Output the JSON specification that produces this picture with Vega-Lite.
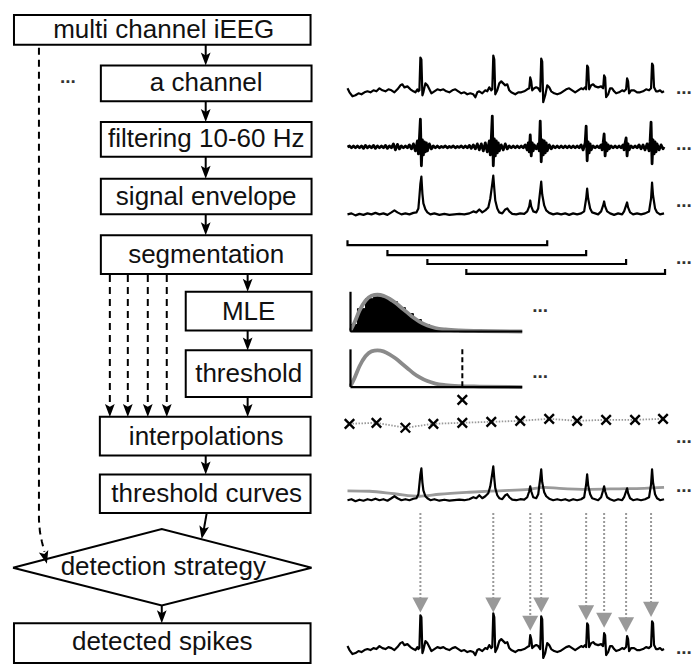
{
"$schema": "https://vega.github.io/schema/vega-lite/v6.json",
"width": 692, "height": 664,
"autosize": {"type": "fit", "contains": "padding"},
"padding": 0,
"background": "white",
"config": {"view": {"stroke": null}},
"datasets": {
"boxes": [
{"x":14,"xb":311,"y":15,"yb":45},
{"x":101,"xb":312,"y":66,"yb":102},
{"x":101,"xb":312,"y":123,"yb":158},
{"x":101,"xb":312,"y":180,"yb":216},
{"x":101,"xb":312,"y":237,"yb":276},
{"x":186,"xb":312,"y":294,"yb":333},
{"x":186,"xb":312,"y":353,"yb":400},
{"x":100,"xb":311,"y":420,"yb":459},
{"x":100,"xb":311,"y":478,"yb":517},
{"x":14,"xb":311,"y":628,"yb":668}
],
"labels": [
{"x":164,"y":30.5,"t":"multi channel iEEG"},
{"x":206.5,"y":84,"t":"a channel"},
{"x":206.5,"y":140.5,"t":"filtering 10-60 Hz"},
{"x":206.5,"y":198,"t":"signal envelope"},
{"x":206.5,"y":256.5,"t":"segmentation"},
{"x":249,"y":314,"t":"MLE"},
{"x":249,"y":377,"t":"threshold"},
{"x":206.5,"y":440,"t":"interpolations"},
{"x":207,"y":497.5,"t":"threshold curves"},
{"x":163.5,"y":571.5,"t":"detection strategy"},
{"x":162.5,"y":647,"t":"detected spikes"}
],
"diamond": [
{"o":1,"x":13,"y":572},{"o":2,"x":162,"y":533},{"o":3,"x":312,"y":572},{"o":4,"x":162,"y":610},{"o":5,"x":13,"y":572}
],
"shafts": [
{"x":206,"y":45,"xb":206,"yb":60},
{"x":206,"y":102,"xb":206,"yb":117},
{"x":206,"y":158,"xb":206,"yb":174},
{"x":206,"y":216,"xb":206,"yb":231},
{"x":248,"y":276,"xb":248,"yb":288},
{"x":248,"y":333,"xb":248,"yb":347},
{"x":248,"y":400,"xb":248,"yb":414},
{"x":206,"y":459,"xb":206,"yb":472},
{"x":162,"y":610,"xb":162,"yb":622},
{"x":207,"y":517,"xb":203.5,"yb":537}
],
"dshafts": [
{"x":110,"y":277,"xb":110,"yb":414},
{"x":128,"y":277,"xb":128,"yb":414},
{"x":148,"y":277,"xb":148,"yb":414},
{"x":167,"y":277,"xb":167,"yb":414}
],
"lcurve": [
{"o":1,"x":39,"y":48},{"o":2,"x":39,"y":524},{"o":3,"x":40,"y":536},{"o":4,"x":42,"y":546},{"o":5,"x":44.5,"y":556}
],
"heads": [
{"x":206,"y":59.5},{"x":206,"y":116.5},{"x":206,"y":173.5},{"x":206,"y":230.5},
{"x":248,"y":287.5},{"x":248,"y":346.5},{"x":248,"y":413.5},{"x":206,"y":471.5},{"x":162,"y":621.5},
{"x":110,"y":413.5},{"x":128,"y":413.5},{"x":148,"y":413.5},{"x":167,"y":413.5}
],
"headA": [{"x":203.2,"y":536.6}],
"headB": [{"x":45.3,"y":561.7}],
"dots": [
{"x":60,"y":83.5},{"x":677,"y":94.5},{"x":677,"y":151.5},{"x":677,"y":208.5},{"x":677,"y":266.5},
{"x":533,"y":314.5},{"x":533,"y":380.5},{"x":677,"y":446.5},{"x":677,"y":495.5},{"x":677,"y":658.5}
],
"raw": [
{"x":348,"y":89,"d":651},{"x":350,"y":93,"d":655},{"x":353,"y":97,"d":659},{"x":356,"y":96,"d":658},{"x":359,"y":94,"d":656},{"x":362,"y":95,"d":657},{"x":365,"y":93,"d":655},{"x":368,"y":92,"d":654},{"x":371,"y":93,"d":655},{"x":374,"y":91,"d":653},{"x":377,"y":92,"d":654},{"x":380,"y":89,"d":651},{"x":383,"y":91,"d":653},{"x":386,"y":92,"d":654},{"x":389,"y":90,"d":652},{"x":392,"y":91,"d":653},{"x":395,"y":93,"d":655},{"x":398,"y":90,"d":652},{"x":401,"y":86,"d":648},{"x":403,"y":85,"d":647},{"x":405,"y":88,"d":650},{"x":408,"y":87,"d":649},{"x":411,"y":90,"d":652},{"x":414,"y":92,"d":654},{"x":416,"y":93,"d":655},{"x":418,"y":90,"d":652},{"x":419,"y":92,"d":654},{"x":420,"y":91,"d":653},{"x":421,"y":58,"d":620},{"x":422,"y":60,"d":622},{"x":423,"y":96,"d":658},{"x":424,"y":93,"d":655},{"x":426,"y":84,"d":646},{"x":428,"y":86,"d":648},{"x":430,"y":90,"d":652},{"x":432,"y":94,"d":656},{"x":435,"y":92,"d":654},{"x":438,"y":90,"d":652},{"x":441,"y":91,"d":653},{"x":444,"y":90,"d":652},{"x":447,"y":92,"d":654},{"x":450,"y":93,"d":655},{"x":453,"y":91,"d":653},{"x":456,"y":90,"d":652},{"x":459,"y":92,"d":654},{"x":462,"y":94,"d":656},{"x":465,"y":93,"d":655},{"x":468,"y":95,"d":657},{"x":471,"y":94,"d":656},{"x":474,"y":95,"d":657},{"x":476,"y":98,"d":660},{"x":478,"y":93,"d":655},{"x":480,"y":92,"d":654},{"x":483,"y":94,"d":656},{"x":486,"y":91,"d":653},{"x":488,"y":92,"d":654},{"x":490,"y":88,"d":650},{"x":492,"y":91,"d":653},{"x":493,"y":90,"d":652},{"x":494,"y":56,"d":618},{"x":495,"y":60,"d":622},{"x":496,"y":95,"d":657},{"x":498,"y":91,"d":653},{"x":500,"y":84,"d":646},{"x":502,"y":82,"d":644},{"x":504,"y":84,"d":646},{"x":506,"y":86,"d":648},{"x":508,"y":85,"d":647},{"x":510,"y":91,"d":653},{"x":512,"y":93,"d":655},{"x":514,"y":94,"d":656},{"x":516,"y":95,"d":657},{"x":519,"y":93,"d":655},{"x":522,"y":93,"d":655},{"x":525,"y":92,"d":654},{"x":528,"y":90,"d":652},{"x":530,"y":89,"d":651},{"x":531,"y":78,"d":640},{"x":532,"y":82,"d":644},{"x":533,"y":91,"d":653},{"x":535,"y":89,"d":651},{"x":537,"y":88,"d":650},{"x":539,"y":89,"d":651},{"x":541,"y":92,"d":654},{"x":542,"y":59,"d":621},{"x":543,"y":62,"d":624},{"x":544,"y":103,"d":663},{"x":546,"y":96,"d":658},{"x":548,"y":86,"d":648},{"x":550,"y":88,"d":650},{"x":552,"y":92,"d":654},{"x":555,"y":94,"d":656},{"x":558,"y":95,"d":657},{"x":561,"y":94,"d":656},{"x":564,"y":92,"d":654},{"x":567,"y":90,"d":652},{"x":570,"y":89,"d":651},{"x":573,"y":91,"d":653},{"x":576,"y":93,"d":655},{"x":579,"y":91,"d":653},{"x":582,"y":89,"d":651},{"x":584,"y":90,"d":652},{"x":586,"y":88,"d":650},{"x":587,"y":90,"d":652},{"x":588,"y":66,"d":628},{"x":589,"y":68,"d":630},{"x":590,"y":90,"d":652},{"x":592,"y":86,"d":648},{"x":594,"y":85,"d":647},{"x":596,"y":87,"d":649},{"x":599,"y":88,"d":650},{"x":602,"y":87,"d":649},{"x":604,"y":89,"d":651},{"x":605,"y":76,"d":638},{"x":606,"y":78,"d":640},{"x":607,"y":98,"d":660},{"x":609,"y":95,"d":657},{"x":611,"y":89,"d":651},{"x":613,"y":89,"d":651},{"x":615,"y":92,"d":654},{"x":617,"y":94,"d":656},{"x":620,"y":93,"d":655},{"x":623,"y":91,"d":653},{"x":625,"y":92,"d":654},{"x":627,"y":90,"d":652},{"x":628,"y":79,"d":641},{"x":629,"y":82,"d":644},{"x":630,"y":94,"d":656},{"x":632,"y":91,"d":653},{"x":635,"y":91,"d":653},{"x":638,"y":93,"d":655},{"x":641,"y":93,"d":655},{"x":644,"y":92,"d":654},{"x":647,"y":90,"d":652},{"x":650,"y":91,"d":653},{"x":652,"y":89,"d":651},{"x":653,"y":64,"d":626},{"x":654,"y":66,"d":628},{"x":655,"y":88,"d":650},{"x":657,"y":92,"d":654},{"x":659,"y":92,"d":654},{"x":661,"y":91,"d":653},{"x":663,"y":93,"d":655},{"x":665,"y":92,"d":654}
],
"filt": [
{"x":348,"y":148},{"x":350,"y":147},{"x":352,"y":149},{"x":354,"y":147},{"x":356,"y":149},{"x":358,"y":147},{"x":360,"y":149},{"x":362,"y":147},{"x":364,"y":149.5},{"x":366,"y":146.5},{"x":368,"y":149},{"x":370,"y":147},{"x":372,"y":149},{"x":374,"y":146.5},{"x":376,"y":149.5},{"x":378,"y":147},{"x":380,"y":149},{"x":382,"y":147},{"x":384,"y":149},{"x":386,"y":146.5},{"x":388,"y":149.5},{"x":390,"y":147},{"x":392,"y":149},{"x":394,"y":145},{"x":396,"y":151},{"x":398,"y":145.5},{"x":400,"y":150},{"x":402,"y":147},{"x":404,"y":149},{"x":406,"y":147},{"x":408,"y":149},{"x":410,"y":146},{"x":412,"y":150},{"x":414,"y":145},{"x":416,"y":152},{"x":418,"y":142},{"x":419,"y":155},{"x":420,"y":140},{"x":421,"y":120},{"x":422,"y":167},{"x":423,"y":141},{"x":424,"y":156},{"x":425,"y":143},{"x":426,"y":153},{"x":427,"y":144},{"x":428,"y":152},{"x":430,"y":145},{"x":432,"y":150},{"x":434,"y":147},{"x":436,"y":149},{"x":438,"y":147},{"x":440,"y":149},{"x":442,"y":147.5},{"x":444,"y":148.5},{"x":446,"y":147},{"x":448,"y":149},{"x":450,"y":147.5},{"x":452,"y":148.5},{"x":454,"y":147},{"x":456,"y":149},{"x":458,"y":147.5},{"x":460,"y":148.5},{"x":462,"y":147},{"x":464,"y":149},{"x":466,"y":147},{"x":468,"y":149},{"x":470,"y":146.5},{"x":472,"y":149.5},{"x":474,"y":146},{"x":476,"y":150},{"x":478,"y":145},{"x":480,"y":151},{"x":482,"y":145},{"x":484,"y":152},{"x":486,"y":144},{"x":488,"y":153},{"x":490,"y":142},{"x":491,"y":156},{"x":492,"y":140},{"x":493,"y":117},{"x":494,"y":167},{"x":495,"y":140},{"x":496,"y":157},{"x":497,"y":142},{"x":498,"y":154},{"x":499,"y":144},{"x":500,"y":152},{"x":502,"y":146},{"x":504,"y":151},{"x":506,"y":145},{"x":508,"y":150},{"x":510,"y":147},{"x":512,"y":149},{"x":514,"y":147},{"x":516,"y":149},{"x":518,"y":147},{"x":520,"y":149},{"x":522,"y":147},{"x":524,"y":149},{"x":526,"y":146},{"x":528,"y":151},{"x":529,"y":144},{"x":530,"y":153},{"x":531,"y":136},{"x":532,"y":157},{"x":533,"y":144},{"x":534,"y":152},{"x":535,"y":146},{"x":537,"y":150},{"x":539,"y":145},{"x":540,"y":152},{"x":541,"y":122},{"x":542,"y":163},{"x":543,"y":141},{"x":544,"y":156},{"x":545,"y":142},{"x":546,"y":154},{"x":547,"y":144},{"x":548,"y":152},{"x":550,"y":146},{"x":552,"y":150},{"x":554,"y":147},{"x":556,"y":149},{"x":558,"y":147},{"x":560,"y":149},{"x":562,"y":147},{"x":564,"y":149},{"x":566,"y":147},{"x":568,"y":149},{"x":570,"y":147},{"x":572,"y":149},{"x":574,"y":147},{"x":576,"y":149},{"x":578,"y":147},{"x":580,"y":149},{"x":582,"y":146},{"x":584,"y":151},{"x":586,"y":144},{"x":587,"y":127},{"x":588,"y":162},{"x":589,"y":143},{"x":590,"y":154},{"x":591,"y":145},{"x":592,"y":151},{"x":594,"y":147},{"x":596,"y":149},{"x":598,"y":147},{"x":600,"y":149},{"x":602,"y":146},{"x":603,"y":151},{"x":604,"y":144},{"x":605,"y":135},{"x":606,"y":157},{"x":607,"y":144},{"x":608,"y":152},{"x":609,"y":146},{"x":610,"y":150},{"x":612,"y":147},{"x":614,"y":149},{"x":616,"y":147},{"x":618,"y":149},{"x":620,"y":147},{"x":622,"y":149},{"x":624,"y":146},{"x":625,"y":151},{"x":626,"y":144},{"x":627,"y":139},{"x":628,"y":157},{"x":629,"y":145},{"x":630,"y":151},{"x":632,"y":147},{"x":634,"y":149},{"x":636,"y":147},{"x":638,"y":149},{"x":640,"y":146},{"x":642,"y":150},{"x":644,"y":146},{"x":646,"y":151},{"x":648,"y":145},{"x":650,"y":152},{"x":651,"y":143},{"x":652,"y":123},{"x":653,"y":165},{"x":654,"y":141},{"x":655,"y":155},{"x":656,"y":143},{"x":657,"y":153},{"x":658,"y":145},{"x":660,"y":151},{"x":662,"y":146},{"x":664,"y":150},{"x":665,"y":148}
],
"env": [
{"x":348,"y":216,"t":504},{"x":352,"y":215,"t":503},{"x":356,"y":217,"t":505},{"x":360,"y":215.5,"t":503.5},{"x":364,"y":216.5,"t":504.5},{"x":368,"y":215,"t":503},{"x":372,"y":216,"t":504},{"x":376,"y":214.5,"t":502.5},{"x":380,"y":216,"t":504},{"x":384,"y":215,"t":503},{"x":388,"y":216.5,"t":504.5},{"x":392,"y":214,"t":502},{"x":395,"y":212,"t":500},{"x":398,"y":214,"t":502},{"x":402,"y":216,"t":504},{"x":406,"y":215,"t":503},{"x":410,"y":216,"t":504},{"x":414,"y":214.5,"t":502.5},{"x":417,"y":214,"t":502},{"x":419,"y":210,"t":498},{"x":420,"y":198,"t":488},{"x":421,"y":185,"t":478},{"x":422,"y":178,"t":472},{"x":423,"y":195,"t":486},{"x":424,"y":205,"t":494},{"x":426,"y":211,"t":500},{"x":428,"y":214,"t":502},{"x":431,"y":216,"t":504},{"x":435,"y":215,"t":503},{"x":440,"y":216.5,"t":504.5},{"x":445,"y":215.5,"t":503.5},{"x":450,"y":216.5,"t":504.5},{"x":455,"y":216,"t":504},{"x":460,"y":215.5,"t":503.5},{"x":465,"y":216,"t":504},{"x":470,"y":215,"t":503},{"x":474,"y":213,"t":501},{"x":477,"y":214,"t":502},{"x":480,"y":211,"t":499},{"x":483,"y":214,"t":502},{"x":486,"y":212,"t":500},{"x":489,"y":209,"t":497},{"x":491,"y":200,"t":490},{"x":493,"y":185,"t":477},{"x":494,"y":177,"t":470},{"x":495,"y":190,"t":482},{"x":496,"y":202,"t":492},{"x":498,"y":210,"t":499},{"x":500,"y":214,"t":502},{"x":503,"y":215,"t":503},{"x":506,"y":211,"t":499},{"x":508,"y":210,"t":498},{"x":510,"y":213,"t":501},{"x":513,"y":215.5,"t":503.5},{"x":517,"y":216,"t":504},{"x":521,"y":215,"t":503},{"x":525,"y":215.5,"t":503.5},{"x":528,"y":213,"t":501},{"x":530,"y":208,"t":495},{"x":531,"y":202,"t":490},{"x":532,"y":208,"t":495},{"x":534,"y":213,"t":501},{"x":537,"y":214,"t":502},{"x":539,"y":210,"t":498},{"x":541,"y":192,"t":482},{"x":542,"y":183,"t":473},{"x":543,"y":196,"t":486},{"x":545,"y":207,"t":496},{"x":547,"y":212,"t":500},{"x":550,"y":214.5,"t":502.5},{"x":554,"y":216,"t":504},{"x":558,"y":215,"t":503},{"x":562,"y":216,"t":504},{"x":566,"y":215,"t":503},{"x":570,"y":216.5,"t":504.5},{"x":574,"y":215,"t":503},{"x":578,"y":216,"t":504},{"x":582,"y":215,"t":503},{"x":585,"y":213,"t":501},{"x":587,"y":200,"t":488},{"x":588,"y":190,"t":478},{"x":589,"y":200,"t":489},{"x":591,"y":210,"t":498},{"x":593,"y":214,"t":502},{"x":596,"y":215,"t":503},{"x":599,"y":216,"t":504},{"x":602,"y":213,"t":501},{"x":604,"y":207,"t":494},{"x":605,"y":203,"t":490},{"x":606,"y":208,"t":495},{"x":608,"y":213,"t":501},{"x":611,"y":215,"t":503},{"x":615,"y":216.5,"t":504.5},{"x":619,"y":215,"t":503},{"x":623,"y":216,"t":504},{"x":625,"y":213,"t":501},{"x":627,"y":207,"t":495},{"x":628,"y":204,"t":492},{"x":629,"y":209,"t":497},{"x":631,"y":214,"t":502},{"x":634,"y":216,"t":504},{"x":638,"y":215,"t":503},{"x":642,"y":216,"t":504},{"x":646,"y":215,"t":503},{"x":650,"y":213,"t":501},{"x":652,"y":200,"t":488},{"x":653,"y":184,"t":473},{"x":654,"y":197,"t":486},{"x":656,"y":210,"t":498},{"x":658,"y":214,"t":502},{"x":661,"y":216,"t":504},{"x":665,"y":215,"t":503}
],
"gcurve": [
{"x":348,"y":494.5},{"x":370,"y":495},{"x":395,"y":497.5},{"x":420,"y":500},{"x":440,"y":498},{"x":470,"y":496},{"x":500,"y":494.5},{"x":530,"y":493},{"x":545,"y":491},{"x":560,"y":492},{"x":590,"y":493},{"x":620,"y":492.5},{"x":645,"y":492},{"x":665,"y":491}
],
"brackets": [
{"id":1,"o":1,"x":348,"y":242},{"id":1,"o":2,"x":348,"y":247},{"id":1,"o":3,"x":548,"y":247},{"id":1,"o":4,"x":548,"y":242},
{"id":2,"o":1,"x":388,"y":252},{"id":2,"o":2,"x":388,"y":257},{"id":2,"o":3,"x":587,"y":257},{"id":2,"o":4,"x":587,"y":252},
{"id":3,"o":1,"x":428,"y":261},{"id":3,"o":2,"x":428,"y":266},{"id":3,"o":3,"x":627,"y":266},{"id":3,"o":4,"x":627,"y":261},
{"id":4,"o":1,"x":467,"y":271},{"id":4,"o":2,"x":467,"y":276},{"id":4,"o":3,"x":666,"y":276},{"id":4,"o":4,"x":666,"y":271}
],
"hist": [
{"x":351,"xb":358,"y":327},{"x":358,"xb":366,"y":311},{"x":366,"xb":374,"y":301},{"x":374,"xb":382,"y":298},{"x":382,"xb":390,"y":300},{"x":390,"xb":398,"y":304},{"x":398,"xb":406,"y":310},{"x":406,"xb":414,"y":316},{"x":414,"xb":422,"y":322},{"x":422,"xb":430,"y":327},{"x":430,"xb":440,"y":330},{"x":440,"xb":455,"y":332}
],
"dist": [
{"id":1,"x":351,"y":333},{"id":1,"x":355,"y":325},{"id":1,"x":360,"y":313},{"id":1,"x":366,"y":303},{"id":1,"x":372,"y":298},{"id":1,"x":378,"y":297},{"id":1,"x":384,"y":298},{"id":1,"x":390,"y":301},{"id":1,"x":396,"y":305},{"id":1,"x":402,"y":310},{"id":1,"x":408,"y":315},{"id":1,"x":414,"y":320},{"id":1,"x":420,"y":324},{"id":1,"x":428,"y":328},{"id":1,"x":436,"y":330.5},{"id":1,"x":446,"y":332},{"id":1,"x":460,"y":333},{"id":1,"x":480,"y":333.5},{"id":1,"x":523,"y":334},
{"id":2,"x":351,"y":389},{"id":2,"x":355,"y":381},{"id":2,"x":360,"y":369},{"id":2,"x":366,"y":359},{"id":2,"x":372,"y":354},{"id":2,"x":378,"y":353},{"id":2,"x":384,"y":354},{"id":2,"x":390,"y":357},{"id":2,"x":396,"y":361},{"id":2,"x":402,"y":366},{"id":2,"x":408,"y":371},{"id":2,"x":414,"y":376},{"id":2,"x":420,"y":380},{"id":2,"x":428,"y":384},{"id":2,"x":436,"y":386.5},{"id":2,"x":446,"y":388},{"id":2,"x":460,"y":389},{"id":2,"x":480,"y":389.5},{"id":2,"x":523,"y":390}
],
"daxes": [
{"x":351,"y":294,"xb":351,"yb":334},{"x":351,"y":334,"xb":523,"yb":334},
{"x":351,"y":352,"xb":351,"yb":390},{"x":351,"y":390,"xb":523,"yb":390}
],
"thrline": [{"x":463,"y":352,"xb":463,"yb":390}],
"interp": [
{"x":350,"y":427},{"x":377,"y":426},{"x":406,"y":431},{"x":434,"y":427},{"x":463,"y":426},{"x":492,"y":425},{"x":521,"y":424},{"x":550,"y":422},{"x":578,"y":424},{"x":607,"y":423},{"x":636,"y":423},{"x":664,"y":422}
],
"xs": [
{"x":463,"y":403},
{"x":350,"y":427},{"x":377,"y":426},{"x":406,"y":431},{"x":434,"y":427},{"x":463,"y":426},{"x":492,"y":425},{"x":521,"y":424},{"x":550,"y":422},{"x":578,"y":424},{"x":607,"y":423},{"x":636,"y":423},{"x":664,"y":422}
],
"garrows": [
{"x":421,"y":517,"yb":603},{"x":494,"y":517,"yb":603},{"x":531,"y":517,"yb":622},{"x":542,"y":517,"yb":603},
{"x":587,"y":517,"yb":611},{"x":605,"y":517,"yb":618},{"x":627,"y":517,"yb":623},{"x":652,"y":517,"yb":608}
],
"gtri": [
{"x":421,"y":609.5},{"x":494,"y":609.5},{"x":531,"y":628},{"x":542,"y":609.5},
{"x":587,"y":617.5},{"x":605,"y":625},{"x":627,"y":629.5},{"x":652,"y":614}
]
},
"encoding": {
"x": {"field": "x", "type": "quantitative", "scale": {"domain": [0, 692], "nice": false, "zero": false}, "axis": null},
"y": {"field": "y", "type": "quantitative", "scale": {"domain": [0, 664], "nice": false, "zero": false, "reverse": true}, "axis": null}
},
"layer": [
{"data": {"name": "boxes"}, "mark": {"type": "rect", "fill": "white", "stroke": "black", "strokeWidth": 2},
 "encoding": {"x2": {"field": "xb"}, "y2": {"field": "yb"}}},
{"data": {"name": "diamond"}, "mark": {"type": "line", "stroke": "black", "strokeWidth": 2},
 "encoding": {"order": {"field": "o", "type": "quantitative"}}},
{"data": {"name": "labels"}, "mark": {"type": "text", "font": "Liberation Sans", "fontSize": 26, "align": "center", "baseline": "middle", "color": "#111"},
 "encoding": {"text": {"field": "t", "type": "nominal"}}},
{"data": {"name": "shafts"}, "mark": {"type": "rule", "stroke": "black", "strokeWidth": 2},
 "encoding": {"x2": {"field": "xb"}, "y2": {"field": "yb"}}},
{"data": {"name": "dshafts"}, "mark": {"type": "rule", "stroke": "black", "strokeWidth": 2, "strokeDash": [7, 5]},
 "encoding": {"x2": {"field": "xb"}, "y2": {"field": "yb"}}},
{"data": {"name": "lcurve"}, "mark": {"type": "line", "stroke": "black", "strokeWidth": 2, "strokeDash": [7, 5]},
 "encoding": {"order": {"field": "o", "type": "quantitative"}}},
{"data": {"name": "heads"}, "mark": {"type": "point", "shape": "M0,1L-0.75,-1L0,-0.55L0.75,-1Z", "filled": true, "fill": "black", "size": 169, "opacity": 1, "strokeWidth": 0}},
{"data": {"name": "headA"}, "mark": {"type": "point", "shape": "M0,1L-0.75,-1L0,-0.55L0.75,-1Z", "filled": true, "fill": "black", "size": 169, "opacity": 1, "strokeWidth": 0, "angle": 11}},
{"data": {"name": "headB"}, "mark": {"type": "point", "shape": "M0,1L-0.75,-1L0,-0.55L0.75,-1Z", "filled": true, "fill": "black", "size": 169, "opacity": 1, "strokeWidth": 0, "angle": -15}},
{"data": {"name": "dots"}, "mark": {"type": "text", "text": "...", "font": "Liberation Sans", "fontSize": 19, "fontWeight": "bold", "align": "left", "baseline": "alphabetic", "color": "#333"}},
{"data": {"name": "raw"}, "mark": {"type": "line", "stroke": "black", "strokeWidth": 2.2, "strokeJoin": "round"}},
{"data": {"name": "raw"}, "mark": {"type": "line", "stroke": "black", "strokeWidth": 2.2, "strokeJoin": "round"},
 "encoding": {"y": {"field": "d", "type": "quantitative", "scale": {"domain": [0, 664], "nice": false, "zero": false, "reverse": true}, "axis": null}}},
{"data": {"name": "filt"}, "mark": {"type": "line", "stroke": "black", "strokeWidth": 2.8, "strokeJoin": "round"}},
{"data": {"name": "env"}, "mark": {"type": "line", "stroke": "black", "strokeWidth": 2.2, "strokeJoin": "round"}},
{"data": {"name": "gcurve"}, "mark": {"type": "line", "stroke": "#9a9a9a", "strokeWidth": 2.8, "interpolate": "monotone"}},
{"data": {"name": "env"}, "mark": {"type": "line", "stroke": "black", "strokeWidth": 2.2, "strokeJoin": "round"},
 "encoding": {"y": {"field": "t", "type": "quantitative", "scale": {"domain": [0, 664], "nice": false, "zero": false, "reverse": true}, "axis": null}}},
{"data": {"name": "brackets"}, "mark": {"type": "line", "stroke": "black", "strokeWidth": 2.2},
 "encoding": {"detail": {"field": "id", "type": "nominal"}, "order": {"field": "o", "type": "quantitative"}}},
{"data": {"name": "hist"}, "mark": {"type": "rect", "fill": "black", "stroke": "black", "strokeWidth": 1},
 "encoding": {"x2": {"field": "xb"}, "y2": {"datum": 334}}},
{"data": {"name": "dist"}, "mark": {"type": "line", "stroke": "#8a8a8a", "strokeWidth": 3.8, "interpolate": "monotone"},
 "encoding": {"detail": {"field": "id", "type": "nominal"}}},
{"data": {"name": "daxes"}, "mark": {"type": "rule", "stroke": "black", "strokeWidth": 2.2},
 "encoding": {"x2": {"field": "xb"}, "y2": {"field": "yb"}}},
{"data": {"name": "thrline"}, "mark": {"type": "rule", "stroke": "black", "strokeWidth": 2, "strokeDash": [5, 3]},
 "encoding": {"x2": {"field": "xb"}, "y2": {"field": "yb"}}},
{"data": {"name": "interp"}, "mark": {"type": "line", "stroke": "#999999", "strokeWidth": 1.8, "strokeDash": [1.5, 1.5]}},
{"data": {"name": "xs"}, "mark": {"type": "point", "shape": "M-1,-1L1,1M-1,1L1,-1", "filled": false, "stroke": "black", "strokeWidth": 2.4, "size": 90, "opacity": 1}},
{"data": {"name": "garrows"}, "mark": {"type": "rule", "stroke": "#999999", "strokeWidth": 2, "strokeDash": [2, 2]},
 "encoding": {"y2": {"field": "yb"}}},
{"data": {"name": "gtri"}, "mark": {"type": "point", "shape": "M-1,-0.94L1,-0.94L0,0.94Z", "filled": true, "fill": "#999999", "size": 256, "opacity": 1, "strokeWidth": 0}}
]
}
